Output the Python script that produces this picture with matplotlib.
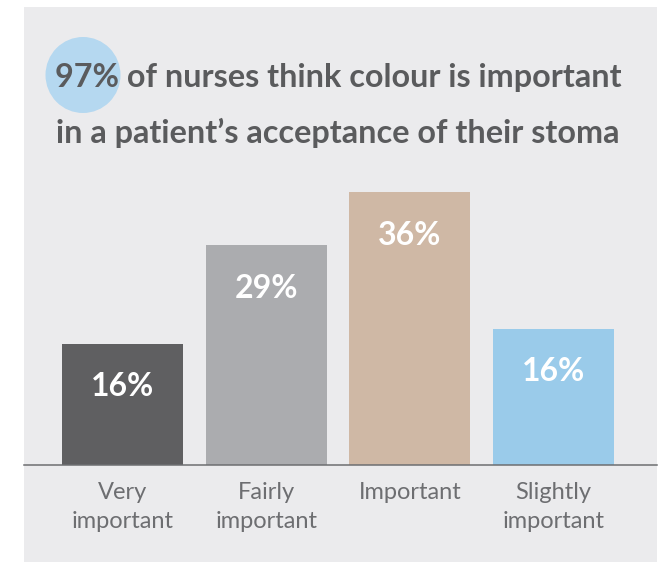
import matplotlib.pyplot as plt
from matplotlib.patches import Rectangle, Ellipse

categories = ['Very\nimportant', 'Fairly\nimportant', 'Important', 'Slightly\nimportant']
percent_labels = ['16%', '29%', '36%', '16%']
bar_heights = [16, 29, 36, 18]   # heights as drawn in the picture
colors = ['#5f5f61', '#abacaf', '#cfb8a5', '#9acbea']

W, H = 662, 564
fig = plt.figure(figsize=(W/100, H/100), dpi=100)
fig.patch.set_facecolor('white')

# grey panel behind everything
fig.add_artist(Rectangle((24/W, 1-562/H), 633/W, 555/H, transform=fig.transFigure,
                         facecolor='#ebebed', edgecolor='none', zorder=0))

# blue circle behind "97%"
fig.add_artist(Ellipse((83/W, 1-75/H), 75/W, 76/H, transform=fig.transFigure,
                       facecolor='#b5d8f0', edgecolor='none', zorder=1))

fig.text(55/W, 1-87/H, '97% of nurses think colour is important', fontsize=23.3,
         family='Lato', weight='bold', color='#5a5b5d', va='baseline', zorder=2)
fig.text(56/W, 1-143/H, 'in a patient\u2019s acceptance of their stoma', fontsize=23.3,
         family='Lato', weight='bold', color='#5a5b5d', va='baseline', zorder=2)

# axes: x spans panel width, y=0 at the baseline (465px)
unit = 273/36
top_px = 465 - 40*unit
ax = fig.add_axes([24/W, 1-465/H, 633/W, (465-top_px)/H])
ax.patch.set_alpha(0)
x = range(len(categories))
ax.bar(x, bar_heights, width=0.842, color=colors, zorder=2)
ax.set_xlim(-0.685, 3.72)
ax.set_ylim(0, 40)

for i, (h, lab) in enumerate(zip(bar_heights, percent_labels)):
    ax.annotate(lab, xy=(i, h), xytext=(0, -31), textcoords='offset points',
                ha='center', va='center', fontsize=23, family='Lato', weight='bold',
                color='white', zorder=3)

for s in ['top', 'left', 'right']:
    ax.spines[s].set_visible(False)
ax.spines['bottom'].set_color('#6d6e71')
ax.spines['bottom'].set_linewidth(1.1)
ax.set_yticks([])
ax.set_xticks(list(x))
ax.set_xticklabels(categories, fontsize=17, family='Lato', weight='normal',
                   color='#6d6e71', linespacing=1.5)
ax.tick_params(axis='x', length=0, pad=12)

fig.savefig('out.png', dpi=100)
